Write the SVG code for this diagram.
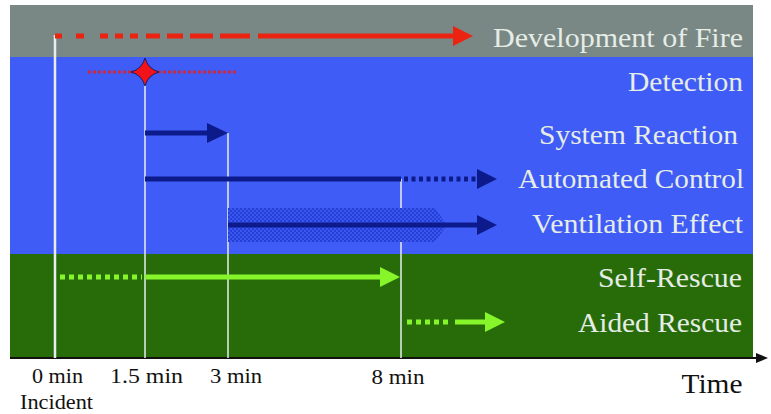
<svg xmlns="http://www.w3.org/2000/svg" width="771" height="414" viewBox="0 0 771 414">
<style>
.lbl{font-family:"Liberation Serif","Times New Roman",serif;font-size:27px;fill:#e6ece6;text-anchor:end}
.ax{font-family:"Liberation Serif","Times New Roman",serif;font-size:21px;fill:#111;text-anchor:middle}
.vl{stroke:#e8eef0;fill:none}
.red{stroke:#ea2410;stroke-width:5;fill:none}
.navy{stroke:#0c1a8c;stroke-width:5;fill:none}
.lg{stroke:#86f52a;stroke-width:5;fill:none}
</style>
<defs>
<pattern id="hatch" width="4" height="4" patternUnits="userSpaceOnUse">
<rect width="4" height="4" fill="#3a56f0"/>
<rect width="2" height="2" fill="#2640d6"/>
<rect x="2" y="2" width="2" height="2" fill="#2640d6"/>
</pattern>
</defs>
<rect width="771" height="414" fill="#ffffff"/>
<g id="bands">
<rect x="10" y="5" width="743" height="52" fill="#798884"/>
<rect x="10" y="57" width="743" height="197" fill="#3f5cf6"/>
<rect x="10" y="254" width="743" height="104" fill="#286c0a"/>
</g>
<g id="axis">
<line x1="10" y1="358" x2="758" y2="358" stroke="#111" stroke-width="2"/>
<polygon points="768,358 756,353 756,363" fill="#111"/>
</g>
<g id="connectors">
<line class="vl" x1="55" y1="35" x2="55" y2="358" stroke-width="2.5"/>
<line class="vl" x1="145" y1="72" x2="145" y2="358" stroke-width="1.5"/>
<line class="vl" x1="228" y1="133" x2="228" y2="358" stroke-width="1.5"/>
<line class="vl" x1="401" y1="179" x2="401" y2="358" stroke-width="1.5"/>
</g>
<g id="fire">
<path class="red" d="M55 36h7 M76 36h8 M100 36h8 M115 36h8 M130 36h8 M146 36h14 M167 36h16 M190 36h23 M220 36h30 M258 36h197"/>
<polygon points="473,36 453,26 453,46" fill="#ea2410"/>
<text class="lbl" x="743" y="47" textLength="250" lengthAdjust="spacingAndGlyphs">Development of Fire</text>
</g>
<g id="detection">
<line x1="88" y1="72" x2="238" y2="72" stroke="#d02838" stroke-width="3" stroke-dasharray="3,2"/>
<path d="M145 58 Q148 69 159 72 Q148 75 145 86 Q142 75 131 72 Q142 69 145 58Z" fill="#f0141a" stroke="#1a1a6a" stroke-width="1"/>
<text class="lbl" x="743" y="91" textLength="115" lengthAdjust="spacingAndGlyphs">Detection</text>
</g>
<g id="system-reaction">
<line class="navy" x1="145" y1="133" x2="210" y2="133"/>
<polygon points="228,133 207,123 207,143" fill="#0c1a8c"/>
<text class="lbl" x="738" y="144" textLength="199" lengthAdjust="spacingAndGlyphs">System Reaction</text>
</g>
<g id="automated-control">
<line class="navy" x1="145" y1="179" x2="401" y2="179"/>
<line class="navy" x1="404" y1="179" x2="478" y2="179" stroke-dasharray="4,3.5"/>
<polygon points="497,179 477,169 477,189" fill="#0c1a8c"/>
<text class="lbl" x="744" y="188" textLength="226" lengthAdjust="spacingAndGlyphs">Automated Control</text>
</g>
<g id="ventilation-effect">
<polygon points="228,208 435,208 447,225 435,242 228,242" fill="url(#hatch)"/>
<line class="navy" x1="228" y1="225" x2="479" y2="225"/>
<polygon points="497,225 477,215 477,235" fill="#0c1a8c"/>
<text class="lbl" x="743" y="233" textLength="211" lengthAdjust="spacingAndGlyphs">Ventilation Effect</text>
</g>
<g id="self-rescue">
<line class="lg" x1="60" y1="277" x2="142" y2="277" stroke-dasharray="5,4"/>
<line class="lg" x1="145" y1="277" x2="383" y2="277"/>
<polygon points="400,277 380,267 380,287" fill="#86f52a"/>
<text class="lbl" x="742" y="287" textLength="144" lengthAdjust="spacingAndGlyphs">Self-Rescue</text>
</g>
<g id="aided-rescue">
<line class="lg" x1="407" y1="322" x2="450" y2="322" stroke-dasharray="5,4"/>
<line class="lg" x1="455" y1="322" x2="487" y2="322"/>
<polygon points="505,322 485,312 485,332" fill="#86f52a"/>
<text class="lbl" x="742" y="332" textLength="164" lengthAdjust="spacingAndGlyphs">Aided Rescue</text>
</g>
<g id="axis-labels">
<text class="ax" x="57.5" y="383" textLength="51" lengthAdjust="spacingAndGlyphs">0 min</text>
<text class="ax" x="56.5" y="409" textLength="73" lengthAdjust="spacingAndGlyphs">Incident</text>
<text class="ax" x="146.5" y="383" textLength="73" lengthAdjust="spacingAndGlyphs">1.5 min</text>
<text class="ax" x="236" y="383" textLength="52" lengthAdjust="spacingAndGlyphs">3 min</text>
<text class="ax" x="398" y="384" textLength="53" lengthAdjust="spacingAndGlyphs">8 min</text>
<text class="ax" x="712" y="393" style="font-size:28px" textLength="61" lengthAdjust="spacingAndGlyphs">Time</text>
</g>
</svg>
